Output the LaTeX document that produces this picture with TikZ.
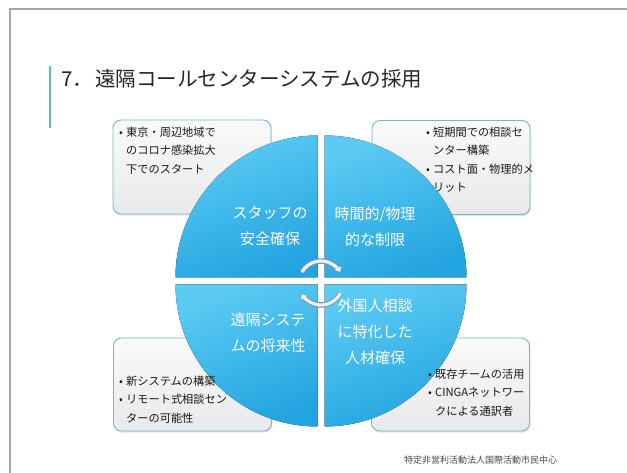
\documentclass[tikz,border=0pt]{standalone}
\usepackage{fontspec}
\setmainfont{Noto Sans CJK JP}
\usetikzlibrary{arrows.meta,shadows}
\definecolor{framegray}{RGB}{166,166,166}
\definecolor{accentblue}{RGB}{91,184,217}
\definecolor{titlec}{RGB}{38,38,38}
\definecolor{boxborder}{RGB}{120,182,204}
\definecolor{boxtop}{RGB}{250,250,250}
\definecolor{boxbot}{RGB}{232,233,234}
\definecolor{quadlight}{RGB}{92,203,244}
\definecolor{quaddark}{RGB}{34,164,224}
\definecolor{arrowedge}{RGB}{120,150,178}
\definecolor{arrowfill}{RGB}{236,241,246}
\newcommand\bulx{\makebox[7pt][l]{•}}
\newcommand\indx{\hspace*{7pt}}
\begin{document}
\begin{tikzpicture}[x=1pt,y=1pt,
  outbox/.style={draw=boxborder, line width=0.9pt, rounded corners=8pt,
    top color=boxtop, bottom color=boxbot,
    drop shadow={opacity=0.22, shadow xshift=1pt, shadow yshift=-1.6pt},
    inner sep=0pt},
  boxtext/.style={font=\fontsize{11.2}{18.3}\selectfont, text=black!90, align=left, inner sep=0pt, anchor=north west},
  quad/.style={shading=axis, top color=quadlight, bottom color=quaddark, shading angle=20},
  quadtext/.style={font=\fontsize{15}{26}\selectfont, text=white, align=center, inner sep=0pt},
  arrowout/.style={draw=arrowedge, line width=5.4pt, -{Triangle[length=6pt,width=10.5pt]}},
  arrowin/.style={draw=arrowfill, line width=3.2pt, -{Triangle[length=4.2pt,width=7.2pt]}, shorten >=0.9pt}
]
\useasboundingbox (0,0) rectangle (627,473);
\fill[white] (0,0) rectangle (627,473);

% slide frame and accent
\draw[framegray, line width=1.6pt] (10,-2) -- (10,464) -- (629,464);
\draw[accentblue, line width=1.4pt] (50,345) -- (50,407);

% title
\node[anchor=west, font=\fontsize{20.5}{24}\selectfont, text=titlec, inner sep=0pt] (title) at (61,394) {7．\hspace{2pt}遠隔コールセンターシステムの採用};

% outer boxes
\node[outbox, minimum width=158pt, minimum height=94pt] (b1) at (192,306) {};
\node[outbox, minimum width=158pt, minimum height=94pt] (b2) at (451,305.5) {};
\node[outbox, minimum width=158pt, minimum height=93pt] (b3) at (192.5,88.5) {};
\node[outbox, minimum width=158pt, minimum height=93pt] (b4) at (450.5,88.5) {};

% circle quadrants
\fill[quad] (317.5,195.5) -- ++(-142,0) arc[start angle=180, end angle=90, radius=142] -- cycle;
\fill[quad] (324.5,195.5) -- ++(0,142) arc[start angle=90, end angle=0, radius=142] -- cycle;
\fill[quad] (324.5,188.5) -- ++(142,0) arc[start angle=0, end angle=-90, radius=142] -- cycle;
\fill[quad] (317.5,188.5) -- ++(0,-142) arc[start angle=270, end angle=180, radius=142] -- cycle;

% box texts
\node[boxtext] (t1) at (119,346) {\bulx 東京・周辺地域で\\\indx のコロナ感染拡大\\\indx 下でのスタート};
\node[boxtext] (t2) at (426,346) {\bulx 短期間での相談セ\\\indx ンター構築\\\bulx コスト面・物理的メ\\\indx リット};
\node[boxtext] (t3) at (119,97) {\bulx 新システムの構築\\\bulx リモート式相談セン\\\indx ターの可能性};
\node[boxtext] (t4) at (428,104) {\bulx 既存チームの活用\\\bulx CINGAネットワー\\\indx クによる通訳者};

% quadrant labels
\node[quadtext] (q1) at (270,246.5) {スタッフの\\安全確保};
\node[quadtext] (q2) at (375,246.5) {時間的/物理\\的な制限};
\node[quadtext] (q3) at (268,140.5) {遠隔システ\\ムの将来性};
\node[quadtext] (q4) at (375,141) {外国人相談\\に特化した\\人材確保};

% centre cycle arrows
\coordinate (c) at (321,190);
\draw[arrowout] (c) ++(150:22) arc[start angle=150, end angle=28, radius=22];
\draw[arrowin] (c) ++(150:22) arc[start angle=150, end angle=28, radius=22];
\draw[arrowout] (c) ++(-28:22) arc[start angle=-28, end angle=-152, radius=22];
\draw[arrowin] (c) ++(-28:22) arc[start angle=-28, end angle=-152, radius=22];

% footer
\node[anchor=west, font=\fontsize{9}{10}\selectfont, text=black!72, inner sep=0pt] (foot) at (404,13) {特定非営利活動法人国際活動市民中心};
\end{tikzpicture}
\end{document}
